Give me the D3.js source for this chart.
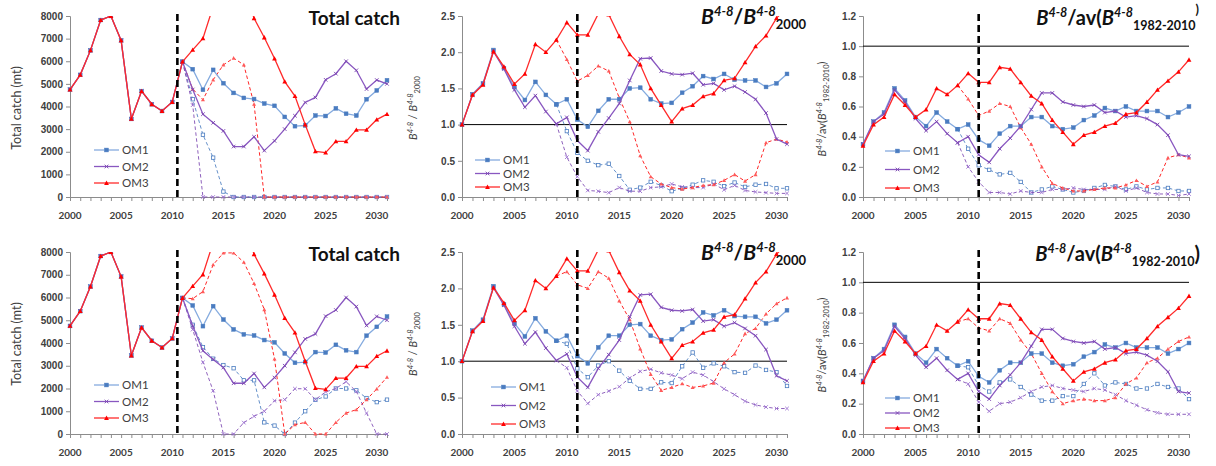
<!DOCTYPE html>
<html>
<head>
<meta charset="utf-8" />
<script src="https://d3js.org/d3.v7.min.js"></script>
<style>
  body { margin: 0; background: #fff; }
  svg { display: block; font-family: Lato, "Open Sans", sans-serif; }
  .tick-label { font-size: 10px; font-weight: bold; fill: #404040; }
  .legend text { font-size: 11.5px; fill: #404040; }
</style>
</head>
<body>
<svg id="chart" width="1216" height="466"></svg>
<script>
const YEARS = d3.range(2000, 2032);
const OMS = ["OM1", "OM2", "OM3"];

// total catch, solid lines (2000-2031), shared by both rows
const catchOM1 = [4750, 5400, 6480, 7820, 8000, 6920, 3450, 4680, 4100, 3800, 4200, 5980,
  5650, 4740, 5620, 5030, 4600, 4380, 4330, 4130, 4030, 3540, 3130, 3160, 3600, 3580, 3920, 3680, 3600, 4320, 4710, 5160];
const catchOM2 = [4750, 5400, 6480, 7820, 8000, 6920, 3450, 4680, 4100, 3800, 4200, 5980,
  4750, 3660, 3280, 2920, 2230, 2230, 2660, 2050, 2480, 3000, 3590, 4180, 4400, 5180, 5450, 6000, 5600, 4770, 5170, 5000];
const catchOM3 = [4750, 5400, 6480, 7820, 8000, 6920, 3450, 4680, 4100, 3800, 4200, 5980,
  6500, 7010, 8420, 9200, 9700, 9300, 7900, 7050, 6120, 5100, 4460, 3200, 2020, 1960, 2460, 2460, 2970, 2970, 3420, 3660];

// total catch, dashed lines from 2011 (top row)
const catchTopOM1 = [5980, 4320, 2750, 1740, 240, 0, 0, 0, 0, 0, 0, 0, 0, 0, 0, 0, 0, 0, 0, 0, 0];
const catchTopOM2 = [5980, 4060, 0, 0, 0, 0, 0, 0, 0, 0, 0, 0, 0, 0, 0, 0, 0, 0, 0, 0, 0];
const catchTopOM3 = [5980, 4770, 4300, 5180, 5840, 6140, 5840, 4100, 0, 0, 0, 0, 0, 0, 0, 0, 0, 0, 0, 0, 0];
// total catch, dashed lines from 2011 (bottom row)
const catchBotOM1 = [5980, 4800, 3820, 3310, 3030, 2890, 2360, 2360, 510, 370, 0, 500, 1000, 1500, 1650, 2000, 2000, 1920, 1580, 1400, 1510];
const catchBotOM2 = [5980, 4590, 3150, 1900, 0, 0, 500, 780, 1000, 1460, 1510, 1990, 1990, 1510, 1850, 2000, 2300, 1870, 920, 0, 0];
const catchBotOM3 = [5980, 5950, 6260, 7440, 7960, 7960, 7550, 6620, 5470, 3300, 0, 410, 510, 0, 0, 510, 920, 1070, 1510, 1980, 2500];

// B4-8 / B4-8 2000, solid (2000-2031)
const relOM1 = [1.00, 1.42, 1.57, 2.03, 1.78, 1.52, 1.34, 1.59, 1.41, 1.28, 1.35, 1.07, 0.97, 1.19, 1.35, 1.35,
  1.50, 1.51, 1.35, 1.29, 1.30, 1.44, 1.53, 1.67, 1.63, 1.70, 1.62, 1.61, 1.61, 1.52, 1.57, 1.70];
const relOM2 = [1.00, 1.41, 1.56, 2.01, 1.77, 1.48, 1.24, 1.40, 1.18, 1.01, 1.10, 0.78, 0.64, 0.90, 1.09, 1.29,
  1.61, 1.91, 1.92, 1.74, 1.70, 1.69, 1.71, 1.55, 1.57, 1.48, 1.53, 1.45, 1.35, 1.16, 0.80, 0.73];
const relOM3 = [1.00, 1.41, 1.55, 2.01, 1.80, 1.56, 1.70, 2.11, 2.00, 2.17, 2.41, 2.24, 2.24, 2.53, 2.52, 2.22,
  1.97, 1.83, 1.50, 1.27, 1.04, 1.22, 1.27, 1.39, 1.43, 1.61, 1.64, 1.86, 2.08, 2.23, 2.47, 2.62];
// dashed from 2009
const relTopOM1 = [1.28, 0.91, 0.61, 0.50, 0.44, 0.46, 0.29, 0.10, 0.13, 0.21, 0.16, 0.08, 0.12, 0.17, 0.23, 0.21, 0.15, 0.20, 0.14, 0.17, 0.18, 0.12, 0.12];
const relTopOM2 = [1.01, 0.55, 0.28, 0.09, 0.08, 0.06, 0.13, 0.08, 0.08, 0.13, 0.14, 0.18, 0.14, 0.13, 0.13, 0.18, 0.10, 0.16, 0.09, 0.07, 0.06, 0.05, 0.05];
const relTopOM3 = [2.17, 1.90, 1.60, 1.68, 1.81, 1.74, 1.37, 1.04, 0.57, 0.28, 0.18, 0.13, 0.11, 0.13, 0.16, 0.17, 0.23, 0.31, 0.22, 0.31, 0.75, 0.80, 0.76];
const relBotOM1 = [1.28, 1.24, 0.90, 0.78, 0.94, 1.00, 0.87, 0.73, 0.62, 0.62, 0.71, 0.70, 0.93, 1.12, 0.91, 0.97, 0.93, 0.85, 0.84, 0.94, 0.88, 0.85, 0.66];
const relBotOM2 = [1.01, 0.91, 0.59, 0.42, 0.54, 0.59, 0.65, 0.77, 0.86, 0.89, 0.84, 0.81, 0.76, 0.85, 0.81, 0.72, 0.62, 0.54, 0.45, 0.40, 0.37, 0.35, 0.35];
const relBotOM3 = [2.17, 2.23, 2.05, 2.00, 2.23, 2.14, 1.83, 1.57, 1.17, 0.82, 0.60, 0.64, 0.69, 0.64, 0.66, 0.70, 0.98, 1.10, 1.38, 1.45, 1.65, 1.79, 1.87];

// B4-8 / av(B4-8 1982-2010), solid (2000-2031)
const avOM1 = [0.35, 0.50, 0.56, 0.72, 0.64, 0.53, 0.47, 0.56, 0.50, 0.45, 0.48, 0.38, 0.34, 0.42, 0.47, 0.47,
  0.53, 0.53, 0.47, 0.45, 0.46, 0.51, 0.54, 0.59, 0.57, 0.60, 0.57, 0.57, 0.57, 0.53, 0.56, 0.60];
const avOM2 = [0.35, 0.50, 0.55, 0.71, 0.63, 0.52, 0.44, 0.50, 0.42, 0.36, 0.40, 0.28, 0.23, 0.32, 0.39, 0.47,
  0.58, 0.69, 0.69, 0.63, 0.61, 0.60, 0.61, 0.56, 0.57, 0.53, 0.54, 0.52, 0.48, 0.41, 0.28, 0.27];
const avOM3 = [0.34, 0.48, 0.53, 0.68, 0.61, 0.53, 0.58, 0.72, 0.68, 0.74, 0.82, 0.76, 0.76, 0.86, 0.85, 0.76,
  0.67, 0.62, 0.51, 0.43, 0.35, 0.41, 0.43, 0.47, 0.49, 0.55, 0.56, 0.63, 0.71, 0.77, 0.83, 0.91];
// dashed from 2009
const avTopOM1 = [0.45, 0.32, 0.21, 0.18, 0.15, 0.16, 0.10, 0.03, 0.05, 0.07, 0.05, 0.03, 0.04, 0.06, 0.08, 0.07, 0.05, 0.07, 0.05, 0.06, 0.06, 0.04, 0.04];
const avTopOM2 = [0.36, 0.20, 0.10, 0.03, 0.03, 0.02, 0.04, 0.03, 0.03, 0.05, 0.05, 0.06, 0.05, 0.05, 0.05, 0.07, 0.04, 0.06, 0.03, 0.02, 0.02, 0.01, 0.02];
const avTopOM3 = [0.74, 0.65, 0.54, 0.57, 0.62, 0.60, 0.46, 0.35, 0.20, 0.09, 0.06, 0.04, 0.04, 0.05, 0.06, 0.06, 0.08, 0.11, 0.07, 0.10, 0.26, 0.28, 0.26];
const avBotOM1 = [0.45, 0.44, 0.32, 0.28, 0.34, 0.36, 0.31, 0.26, 0.22, 0.22, 0.25, 0.25, 0.33, 0.40, 0.32, 0.34, 0.33, 0.30, 0.30, 0.33, 0.31, 0.30, 0.23];
const avBotOM2 = [0.36, 0.33, 0.21, 0.15, 0.20, 0.21, 0.24, 0.28, 0.31, 0.32, 0.30, 0.29, 0.28, 0.30, 0.29, 0.26, 0.22, 0.19, 0.16, 0.14, 0.13, 0.13, 0.13];
const avBotOM3 = [0.74, 0.76, 0.70, 0.68, 0.76, 0.73, 0.62, 0.53, 0.40, 0.28, 0.20, 0.22, 0.23, 0.22, 0.22, 0.24, 0.33, 0.37, 0.47, 0.50, 0.56, 0.61, 0.64];

const catchTicks = [0, 1000, 2000, 3000, 4000, 5000, 6000, 7000, 8000];
const relTicks = [0, 0.5, 1.0, 1.5, 2.0, 2.5];
const avTicks = [0, 0.2, 0.4, 0.6, 0.8, 1.0, 1.2];
const yearLabels = [2000, 2005, 2010, 2015, 2020, 2025, 2030];

const LINE = { OM1: "#85abdf", OM2: "#8957c0", OM3: "#ff2a2a" };
const MARK = { OM1: "#4a7cc0", OM2: "#7a45b0", OM3: "#ff0000" };

// align a list of values to the year axis, starting at `start`
function toPoints(start, values) {
  return values.map((v, i) => ({ year: start + i, value: v }));
}

const svg = d3.select("#chart");

function marker(g, om, dashed, x, y) {
  if (om === "OM1") {
    const s = dashed ? 3.4 : 3.8;
    g.append("rect").attr("x", x - s / 2).attr("y", y - s / 2).attr("width", s).attr("height", s)
      .attr("fill", dashed ? "#fff" : MARK.OM1).attr("stroke", MARK.OM1).attr("stroke-width", dashed ? 0.8 : 0.5);
  } else if (om === "OM2") {
    const r = 1.8;
    g.append("path").attr("d", `M${x - r},${y - r}L${x + r},${y + r}M${x - r},${y + r}L${x + r},${y - r}`)
      .attr("stroke", dashed ? "#9b6fd0" : MARK.OM2).attr("stroke-width", 0.9).attr("fill", "none");
  } else {
    const r = dashed ? 2 : 2.4;
    g.append("path").attr("d", `M${x},${y - r}L${x + r},${y + r * 0.8}L${x - r},${y + r * 0.8}Z`)
      .attr("fill", dashed ? "#ff5a5a" : MARK.OM3);
  }
}

function drawPanel(p, idx) {
  const x = d3.scaleLinear().domain([2000, 2031]).range([p.x0, p.x1]);
  const y = d3.scaleLinear().domain([0, p.ticks[p.ticks.length - 1]]).range([p.y1, p.y0]);
  const g = svg.append("g");

  // axes
  const yAxis = g.append("g").attr("transform", `translate(${p.x0},0)`)
    .call(d3.axisLeft(y).tickValues(p.ticks).tickSize(4).tickPadding(3).tickFormat(p.fmt));
  const xAxis = g.append("g").attr("transform", `translate(0,${p.y1})`)
    .call(d3.axisBottom(x).tickValues(YEARS).tickSize(4).tickFormat(""));
  [yAxis, xAxis].forEach(a => {
    a.select(".domain").attr("stroke", "#8c8c8c");
    a.selectAll(".tick line").attr("stroke", "#8c8c8c");
  });
  yAxis.selectAll(".tick text").attr("class", "tick-label").attr("font-family", null).attr("font-size", null);
  g.append("g").selectAll("text").data(yearLabels).join("text")
    .attr("class", "tick-label")
    .attr("x", d => x(d)).attr("y", p.y1 + 22)
    .attr("text-anchor", "middle").text(d => d);

  if (p.ref != null) {
    g.append("line").attr("x1", p.x0).attr("x2", p.x1).attr("y1", y(p.ref)).attr("y2", y(p.ref))
      .attr("stroke", "#000").attr("stroke-width", 1);
  }

  const clipId = "clip" + idx;
  g.append("clipPath").attr("id", clipId).append("rect")
    .attr("x", p.x0 - 4).attr("y", p.y0).attr("width", p.x1 - p.x0 + 8).attr("height", p.y1 - p.y0 + 4);
  const plot = g.append("g").attr("clip-path", `url(#${clipId})`);

  const line = d3.line().x(d => x(d.year)).y(d => y(d.value));
  const order = p.dashed.map((s, i) => ({ om: OMS[i], pts: s, dashed: true }))
    .concat(p.solid.map((s, i) => ({ om: OMS[i], pts: s, dashed: false })));
  order.forEach(s => {
    plot.append("path").datum(s.pts).attr("d", line).attr("fill", "none")
      .attr("stroke", s.dashed ? MARK[s.om] : LINE[s.om])
      .attr("stroke-opacity", s.dashed ? 0.85 : 1)
      .attr("stroke-width", s.dashed ? 1 : 1.3)
      .attr("stroke-dasharray", s.dashed ? "3.5,2.5" : null);
    const mg = plot.append("g");
    s.pts.forEach(d => marker(mg, s.om, s.dashed, x(d.year), y(d.value)));
  });

  // projection start
  g.append("line").attr("x1", x(p.cut)).attr("x2", x(p.cut)).attr("y1", p.y0 - 2).attr("y2", p.y1)
    .attr("stroke", "#000").attr("stroke-width", 2.6).attr("stroke-dasharray", "7,4");

  // legend
  const lg = g.append("g").attr("class", "legend");
  OMS.forEach((om, i) => {
    const ly = p.legend[1] + i * p.legend[2];
    lg.append("line").attr("x1", p.legend[0]).attr("x2", p.legend[0] + 25).attr("y1", ly).attr("y2", ly)
      .attr("stroke", LINE[om]).attr("stroke-width", 1.3);
    marker(lg, om, false, p.legend[0] + 12.5, ly);
    lg.append("text").attr("x", p.legend[0] + 28).attr("y", ly + 4).text(om);
  });

  p.title(g);
  p.ylabel(g);
}

function titleCatch(right, base) {
  return g => g.append("text").attr("x", right).attr("y", base).attr("text-anchor", "end")
    .attr("font-size", 19).attr("font-weight", "bold").attr("fill", "#111").text("Total catch");
}
function titleRel(right, base) {
  return g => {
    const t = g.append("text").attr("x", right).attr("y", base).attr("text-anchor", "end")
      .attr("font-size", 21).attr("font-weight", "bold").attr("fill", "#111");
    t.append("tspan").attr("font-style", "italic").text("B");
    t.append("tspan").attr("font-style", "italic").attr("font-size", 13).attr("dy", -8).text("4-8");
    t.append("tspan").attr("dy", 8).text("/");
    t.append("tspan").attr("font-style", "italic").text("B");
    t.append("tspan").attr("font-style", "italic").attr("font-size", 13).attr("dy", -8).text("4-8");
    t.append("tspan").attr("font-size", 13).attr("dy", 13).text("2000");
  };
}
function titleAv(right, base, smallParen) {
  return g => {
    const t = g.append("text").attr("x", right).attr("y", base).attr("text-anchor", "end")
      .attr("font-size", 20).attr("font-weight", "bold").attr("fill", "#111");
    t.append("tspan").attr("font-style", "italic").text("B");
    t.append("tspan").attr("font-style", "italic").attr("font-size", 12.5).attr("dy", -8).text("4-8");
    t.append("tspan").attr("dy", 8).text("/av(");
    t.append("tspan").attr("font-style", "italic").text("B");
    t.append("tspan").attr("font-style", "italic").attr("font-size", 12.5).attr("dy", -8).text("4-8");
    t.append("tspan").attr("font-size", 12.5).attr("dy", 13).text("1982-2010");
    if (smallParen) t.append("tspan").attr("font-size", 12.5).attr("dy", -16).text(")");
    else t.append("tspan").attr("dy", -5).text(")");
  };
}
function ylabCatch(xp, cy) {
  return g => g.append("text").attr("transform", `translate(${xp},${cy}) rotate(-90)`)
    .attr("text-anchor", "middle").attr("font-size", 12.5).attr("fill", "#404040").text("Total catch (mt)");
}
function ylabRel(xp, cy) {
  return g => {
    const t = g.append("text").attr("transform", `translate(${xp},${cy}) rotate(-90)`)
      .attr("text-anchor", "middle").attr("font-size", 11).attr("fill", "#404040");
    t.append("tspan").attr("font-style", "italic").text("B");
    t.append("tspan").attr("font-style", "italic").attr("font-size", 7.5).attr("dy", -4).text("4-8");
    t.append("tspan").attr("dy", 4).text(" / ");
    t.append("tspan").attr("font-style", "italic").text("B");
    t.append("tspan").attr("font-style", "italic").attr("font-size", 7.5).attr("dy", -4).text("4-8");
    t.append("tspan").attr("font-size", 7.5).attr("dy", 7).text("2000");
  };
}
function ylabAv(xp, cy) {
  return g => {
    const t = g.append("text").attr("transform", `translate(${xp},${cy}) rotate(-90)`)
      .attr("text-anchor", "middle").attr("font-size", 11).attr("fill", "#404040");
    t.append("tspan").attr("font-style", "italic").text("B");
    t.append("tspan").attr("font-style", "italic").attr("font-size", 7.5).attr("dy", -4).text("4-8");
    t.append("tspan").attr("dy", 4).text("/av(");
    t.append("tspan").attr("font-style", "italic").text("B");
    t.append("tspan").attr("font-style", "italic").attr("font-size", 7.5).attr("dy", -4).text("4-8");
    t.append("tspan").attr("font-size", 7.5).attr("dy", 7).text("1982-2010");
    t.append("tspan").attr("dy", -3).text(")");
  };
}

const rows = [{ y0: 16, y1: 197, off: 0 }, { y0: 252, y1: 434, off: 236 }];
const panels = [];
rows.forEach((r, ri) => {
  const top = ri === 0;
  panels.push({
    x0: 70, x1: 387, y0: r.y0, y1: r.y1, ticks: catchTicks, fmt: d3.format("d"), cut: 2010.5, ref: null,
    solid: [catchOM1, catchOM2, catchOM3].map(v => toPoints(2000, v)),
    dashed: (top ? [catchTopOM1, catchTopOM2, catchTopOM3] : [catchBotOM1, catchBotOM2, catchBotOM3]).map(v => toPoints(2011, v)),
    legend: [94, top ? 150 : 385, 16.5],
    title: titleCatch(400, 25 + r.off), ylabel: ylabCatch(21, 108 + r.off)
  });
  panels.push({
    x0: 462, x1: 787, y0: r.y0, y1: r.y1, ticks: relTicks, fmt: d3.format(".1f"), cut: 2011, ref: 1.0,
    solid: [relOM1, relOM2, relOM3].map(v => toPoints(2000, v)),
    dashed: (top ? [relTopOM1, relTopOM2, relTopOM3] : [relBotOM1, relBotOM2, relBotOM3]).map(v => toPoints(2009, v)),
    legend: top ? [475, 160, 13.5] : [491, 387, 18.5],
    title: titleRel(806, 24 + r.off), ylabel: ylabRel(417, 108 + r.off)
  });
  panels.push({
    x0: 863, x1: 1189, y0: r.y0, y1: r.y1, ticks: avTicks, fmt: d3.format(".1f"), cut: 2011, ref: 1.0,
    solid: [avOM1, avOM2, avOM3].map(v => toPoints(2000, v)),
    dashed: (top ? [avTopOM1, avTopOM2, avTopOM3] : [avBotOM1, avBotOM2, avBotOM3]).map(v => toPoints(2009, v)),
    legend: top ? [885, 151, 18.5] : [885, 398, 15],
    title: titleAv(top ? 1199 : 1200, 25 + r.off, top), ylabel: ylabAv(826, 109 + r.off)
  });
});
panels.forEach(drawPanel);
</script>
</body>
</html>
